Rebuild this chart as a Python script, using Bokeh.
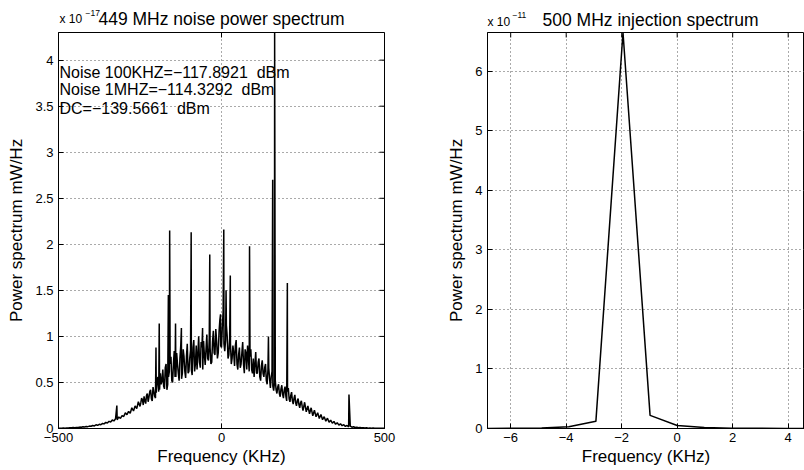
import math
from bokeh.plotting import figure
from bokeh.layouts import row, column
from bokeh.models import FixedTicker, Label, Range1d
from bokeh.embed import file_html
from bokeh.resources import INLINE

FONT = "Liberation Sans"

# ---------------- data: 449 MHz noise power spectrum (x 1e-17 mW/Hz) ----------------
noise_freq = list(range(-500, 501, 5))  # kHz sampling grid
noise_power = [
    0.002, 0.004, 0.003, 0.005, 0.004, 0.006, 0.005, 0.008, 0.007, 0.010,
    0.009, 0.012, 0.011, 0.015, 0.013, 0.018, 0.016, 0.022, 0.020, 0.026,
    0.024, 0.032, 0.028, 0.040, 0.035, 0.046, 0.041, 0.055, 0.050, 0.066,
    0.060, 0.078, 0.070, 0.092, 0.082, 0.105, 0.095, 0.125, 0.110, 0.140,
    0.130, 0.170, 0.150, 0.185, 0.165, 0.225, 0.190, 0.245, 0.215, 0.290,
    0.240, 0.330, 0.255, 0.300, 0.360, 0.290, 0.400, 0.320, 0.450, 0.350,
    0.390, 0.560, 0.420, 0.480, 0.640, 0.430, 0.700, 0.480, 0.620, 0.780,
    0.500, 0.840, 0.560, 0.700, 0.520, 0.900, 0.600, 0.780, 0.550, 0.920,
    0.620, 0.850, 0.580, 0.960, 0.700, 0.640, 1.000, 0.660, 0.880, 0.950,
    0.690, 1.020, 0.740, 0.880, 0.720, 1.060, 0.800, 0.950, 0.820, 1.180,
    0.880, 1.270, 0.840, 1.120, 0.760, 0.980, 0.700, 0.900, 0.680, 0.960,
    0.640, 0.880, 0.700, 0.940, 0.600, 0.820, 0.900, 0.620, 0.860, 0.600,
    0.560, 0.830, 0.600, 0.760, 0.520, 0.740, 0.560, 0.700, 0.480, 0.660,
    0.440, 0.620, 0.410, 0.520, 0.380, 0.480, 0.345, 0.470, 0.330, 0.455,
    0.300, 0.440, 0.290, 0.395, 0.265, 0.365, 0.245, 0.325, 0.225, 0.300,
    0.195, 0.285, 0.180, 0.245, 0.160, 0.225, 0.138, 0.200, 0.127, 0.172,
    0.108, 0.152, 0.096, 0.128, 0.079, 0.112, 0.067, 0.090, 0.057, 0.077,
    0.046, 0.063, 0.037, 0.051, 0.030, 0.041, 0.023, 0.033, 0.018, 0.026,
    0.014, 0.019, 0.011, 0.015, 0.009, 0.012, 0.007, 0.009, 0.005, 0.007,
    0.004, 0.006, 0.003, 0.005, 0.003, 0.004, 0.002, 0.003, 0.002, 0.003,
    0.002,
]
# extra in-between samples across the dense central band
noise_freq_mid = [-247.5 + 5 * i for i in range(100)]
noise_power_mid = [
    0.280, 0.310, 0.350, 0.270, 0.380, 0.340, 0.420, 0.300, 0.400, 0.330,
    0.520, 0.400, 0.600, 0.520, 0.460, 0.660, 0.420, 0.560, 0.700, 0.520,
    0.700, 0.560, 0.820, 0.600, 0.760, 0.540, 0.860, 0.620, 0.780, 0.600,
    0.760, 0.640, 0.880, 0.620, 0.900, 0.800, 0.720, 0.940, 0.640, 0.800,
    0.860, 0.760, 0.980, 0.700, 0.940, 0.820, 1.080, 0.760, 1.050, 0.900,
    1.100, 0.920, 0.960, 1.000, 0.800, 0.920, 0.760, 0.820, 0.900, 0.700,
    0.800, 0.660, 0.820, 0.700, 0.860, 0.640, 0.760, 0.780, 0.640, 0.760,
    0.700, 0.600, 0.720, 0.560, 0.680, 0.600, 0.660, 0.520, 0.640, 0.540,
    0.560, 0.460, 0.500, 0.420, 0.450, 0.380, 0.430, 0.370, 0.420, 0.350,
    0.400, 0.320, 0.360, 0.300, 0.330, 0.280, 0.300, 0.260, 0.280, 0.240,
]
spike_freq = [-321, -201, -191, -163, -159, -141, -123, -93, -58, -36,
              -3, 7, 14, 27, 86, 144, 157, 163, 202, 391]
spike_power = [0.25, 0.88, 1.14, 1.45, 2.15, 1.14, 1.09, 2.13, 1.09, 1.89,
               1.24, 2.16, 1.50, 1.66, 1.98, 1.00, 2.70, 4.30, 1.58, 0.37]

noise_xticks = [-500, 0, 500]
noise_xlabels = ["\u2212500", "0", "500"]
noise_yticks = [0, 0.5, 1, 1.5, 2, 2.5, 3, 3.5, 4]
noise_ylabels = ["0", "0.5", "1", "1.5", "2", "2.5", "3", "3.5", "4"]
noise_title = "449 MHz noise power spectrum"
noise_exponent = "\u221217"
noise_notes = ["Noise 100KHZ=\u2212117.8921 \u00a0dBm",
               "Noise 1MHZ=\u2212114.3292 \u00a0dBm",
               "DC=\u2212139.5661 \u00a0dBm"]

# ---------------- data: 500 MHz injection spectrum (x 1e-11 mW/Hz) ----------------
inj_freq = [-6.836, -5.859, -4.883, -3.906, -2.930, -1.953, -0.977, 0.0,
            0.977, 1.953, 2.930, 3.906, 4.883]
inj_power = [0.000, 0.003, 0.008, 0.030, 0.120, 6.650, 0.220, 0.050,
             0.015, 0.006, 0.003, 0.002, 0.001]
inj_xticks = [-6, -4, -2, 0, 2, 4]
inj_xlabels = ["\u22126", "\u22124", "\u22122", "0", "2", "4"]
inj_yticks = [0, 1, 2, 3, 4, 5, 6]
inj_ylabels = ["0", "1", "2", "3", "4", "5", "6"]
inj_title = "500 MHz injection spectrum"
inj_exponent = "\u221211"

# merge base noise, in-between samples and the narrow spurs
pts = sorted(zip(noise_freq + noise_freq_mid + spike_freq,
                 noise_power + noise_power_mid + spike_power))
nx = [a for a, b in pts]
ny = [b for a, b in pts]


def style(p, xticks, xlabels, yticks, ylabels, right_ticks=True):
    for ax in (p.xaxis[0], p.yaxis[0]):
        ax.axis_line_color = "black"
        ax.major_tick_line_color = "black"
        ax.major_tick_in = 5
        ax.major_tick_out = 0
        ax.minor_tick_line_color = None
        ax.major_label_text_font = FONT
        ax.major_label_text_font_size = "13px"
        ax.major_label_text_color = "black"
        ax.axis_label_text_font = FONT
        ax.axis_label_text_font_size = "17px"
        ax.axis_label_text_font_style = "normal"
        ax.axis_label_text_color = "black"
    p.xaxis[0].ticker = FixedTicker(ticks=xticks)
    p.xaxis[0].major_label_overrides = dict(zip(xticks, xlabels))
    p.yaxis[0].ticker = FixedTicker(ticks=yticks)
    p.yaxis[0].major_label_overrides = dict(zip(yticks, ylabels))
    p.xaxis[0].major_label_standoff = 4
    p.xaxis[0].axis_label_standoff = 2
    p.yaxis[0].major_label_standoff = 5
    p.yaxis[0].axis_label_standoff = 6
    p.xaxis[0].axis_label = "Frequency (KHz)"
    p.yaxis[0].axis_label = "Power spectrum mW/Hz"
    for g, t in ((p.xgrid[0], xticks), (p.ygrid[0], yticks)):
        g.ticker = FixedTicker(ticks=t)
        g.grid_line_color = "#555555"
        g.grid_line_dash = "1 3"
        g.grid_line_width = 1
    # inward box ticks on the top (and right) edges, clipped to the frame
    ytop = p.y_range.end
    p.scatter(xticks, [ytop] * len(xticks), marker="dash", angle=math.pi / 2,
              size=10, line_color="black", line_width=1)
    if right_ticks:
        xr = p.x_range.end
        p.scatter([xr] * len(yticks), yticks, marker="dash", size=10,
                  line_color="black", line_width=1)
    p.outline_line_color = "black"
    p.background_fill_color = "white"
    p.border_fill_color = "white"


def title_strip(title, exponent, title_cx, title_y, x10_x, x10_y, exp_x, exp_y):
    t = figure(width=402, height=31, output_backend="svg", toolbar_location=None,
               x_range=Range1d(0, 1), y_range=Range1d(0, 1),
               x_axis_type=None, y_axis_type=None, min_border=0)
    t.outline_line_color = None
    t.background_fill_color = "white"
    t.border_fill_color = "white"
    t.xgrid.visible = False
    t.ygrid.visible = False
    t.add_layout(Label(x=title_cx, y=title_y, x_units="screen", y_units="screen",
                       text=title, text_align="center", text_baseline="alphabetic",
                       text_font=FONT, text_font_size="17.5px", text_color="black"))
    t.add_layout(Label(x=x10_x, y=x10_y, x_units="screen", y_units="screen",
                       text="x 10", text_baseline="alphabetic",
                       text_font=FONT, text_font_size="12px", text_color="black"))
    t.add_layout(Label(x=exp_x, y=exp_y, x_units="screen", y_units="screen",
                       text=exponent, text_baseline="alphabetic",
                       text_font=FONT, text_font_size="8.5px", text_color="black"))
    return t


# ---------------- left figure ----------------
p1 = figure(width=402, height=439, output_backend="svg", toolbar_location=None,
            x_range=Range1d(-500, 500), y_range=Range1d(0, 4.3),
            min_border_left=58, min_border_right=18, min_border_top=1, min_border_bottom=42)
style(p1, noise_xticks, noise_xlabels, noise_yticks, noise_ylabels, right_ticks=True)
p1.line(nx, ny, line_color="black", line_width=1.5)
for t, off in zip(noise_notes, [-40, -57, -76]):
    p1.add_layout(Label(x=-500, y=4.3, x_offset=1, y_offset=off, text=t,
                        text_font=FONT, text_font_size="16px", text_color="black",
                        text_baseline="middle"))

# ---------------- right figure ----------------
p2 = figure(width=402, height=439, output_backend="svg", toolbar_location=None,
            x_range=Range1d(-6.836, 4.588), y_range=Range1d(0, 6.65),
            min_border_left=85, min_border_right=0, min_border_top=1, min_border_bottom=42)
style(p2, inj_xticks, inj_xlabels, inj_yticks, inj_ylabels, right_ticks=False)
p2.line(inj_freq, inj_power, line_color="black", line_width=1.5)

# ---------------- title strips (text above each axes box) ----------------
t1 = title_strip(noise_title, noise_exponent, 221, 13, 59, 13, 85, 19)
t2 = title_strip(inj_title, inj_exponent, 248, 12, 85, 10, 110, 17)

layout = column(row(t1, t2, spacing=0), row(p1, p2, spacing=0), spacing=0)
open("out.html", "w").write(file_html(layout, INLINE))
